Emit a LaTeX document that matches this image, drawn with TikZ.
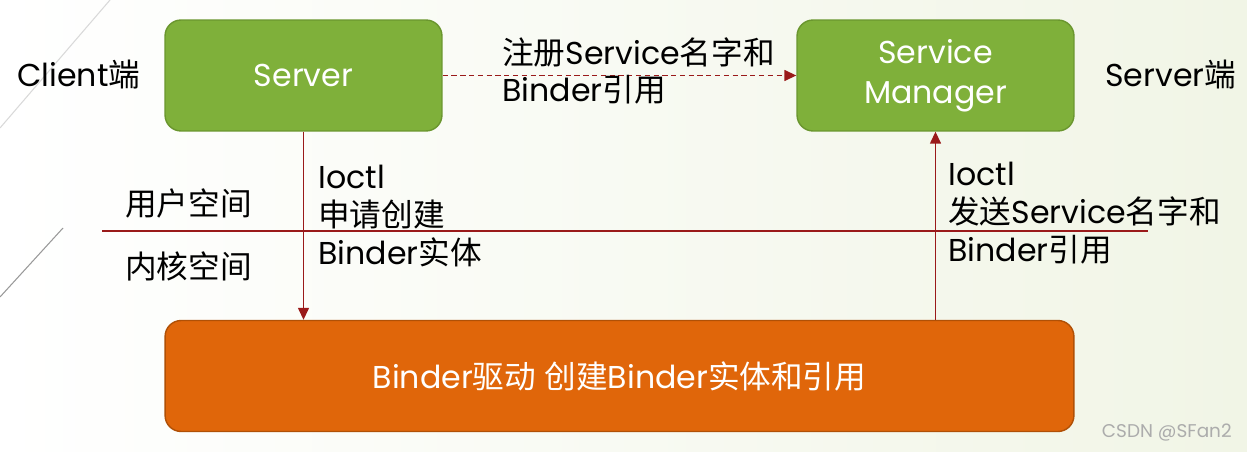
\documentclass[tikz,border=0pt]{standalone}
\usepackage{fontspec}
\setmainfont{Poppins}
\newfontfamily\cjk{Noto Sans CJK SC}
\usetikzlibrary{arrows.meta,positioning}
\definecolor{boxgreen}{HTML}{7FB03A}
\definecolor{greenedge}{HTML}{6A962E}
\definecolor{boxorange}{HTML}{E0660A}
\definecolor{orangeedge}{HTML}{B05006}
\definecolor{linered}{HTML}{9A1A1A}
\definecolor{slidebg}{HTML}{F1F5E6}
\newcommand{\zh}[1]{{\cjk #1}}

\begin{document}
\begin{tikzpicture}[x=0.02cm, y=-0.02cm,
  box/.style={draw, rounded corners=0.32cm, line width=0.8pt, minimum width=5.54cm, minimum height=2.22cm, text=white, font=\fontsize{18}{23}\selectfont, align=center},
  txt/.style={font=\fontsize{18}{21.5}\selectfont, align=left, anchor=west, inner sep=0pt},
  link/.style={draw=linered, line width=0.8pt},
  >={Triangle[length=0.24cm,width=0.22cm]}
]
% Slide background
\useasboundingbox (0,0) rectangle (1247,452);
\shade[left color=white, right color=slidebg] (0,0) rectangle (1247,452);
\draw[gray!30, line width=0.6pt] (0,128) -- (110,0);
\draw[gray!80, line width=0.6pt] (63,228) -- (0,297);

% Boxes
\node[box, fill=boxgreen, draw=greenedge] (server) at (303.5,75.5) {Server};
\node[box, fill=boxgreen, draw=greenedge] (manager) at (935.5,75.5) {Service\\Manager};
\node[box, fill=boxorange, draw=orangeedge, minimum width=18.18cm] (binder) at (619.5,376) {Binder\zh{驱动} \zh{创建}Binder\zh{实体和引用}};

% Side labels
\node[txt] (client) at (17,75) {Client\zh{端}};
\node[txt] (serverside) at (1105,75) {Server\zh{端}};
\node[txt] (user) at (125,203) {\zh{用户空间}};
\node[txt] (kernel) at (125,266) {\zh{内核空间}};

% User / kernel boundary
\coordinate (lineL) at (102,231);
\coordinate (lineR) at (1148,231);
\draw[linered, line width=0.6pt] (lineL) -- (lineR);

% Connections
\draw[link, ->, dash pattern=on 3pt off 2pt] (server.east) -- (manager.west);
\draw[link, ->] (server.south) -- (binder.north -| server.south);
\draw[link, ->] (binder.north -| manager.south) -- (manager.south);

% Connector labels
\node[txt] (register) at (502,71) {\zh{注册}Service\zh{名字和}\\Binder\zh{引用}};
\node[txt] (create) at (318,216) {Ioctl\\\zh{申请创建}\\Binder\zh{实体}};
\node[txt] (send) at (948,213) {Ioctl\\\zh{发送}Service\zh{名字和}\\Binder\zh{引用}};

% Watermark
\node[anchor=east, text=gray!65, font=\fontsize{10.5}{12}\selectfont, inner sep=0pt] (mark) at (1232,433) {CSDN @SFan2};
\end{tikzpicture}
\end{document}
